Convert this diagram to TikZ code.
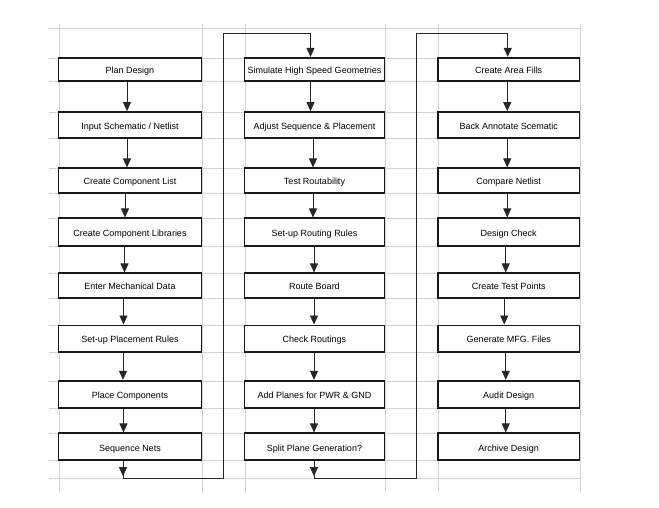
\documentclass[tikz,border=0pt]{standalone}
\usepackage{fontspec}
\setmainfont{Liberation Sans}
\usetikzlibrary{arrows.meta}
\begin{document}
\begin{tikzpicture}[x=1pt,y=-1pt,
  gridline/.style={draw=black!17, line width=0.9pt},
  box/.style={draw=black!90, fill=white, line width=1.7pt, rectangle, inner sep=0pt,
    font=\fontsize{9}{11}\selectfont, text=black, text height=8.5pt, text depth=0pt},
  ca/.style={minimum width=143pt},
  cb/.style={minimum width=140pt},
  cc/.style={minimum width=141.5pt},
  ra/.style={minimum height=23pt},
  rb/.style={minimum height=26pt},
  rc/.style={minimum height=24.4pt},
  rd/.style={minimum height=27.4pt},
  re/.style={minimum height=24.4pt},
  rf/.style={minimum height=26.7pt},
  rg/.style={minimum height=27.3pt},
  rh/.style={minimum height=27pt},
  conn/.style={draw=black!85, line width=0.8pt},
  arr/.style={conn, -{Triangle[length=9pt,width=8pt]}}]
\useasboundingbox (0,0) rectangle (659,508);
\fill[white] (0,0) rectangle (659,508);
% spreadsheet grid
\foreach \y in {28.5,58,81,112,138,168,193,218,246,273,298,325,352,381,408,433,460,478}
  \draw[gridline] (49,\y) -- (580,\y);
\foreach \x in {59,202,245,385,438,580}
  \draw[gridline] (\x,24) -- (\x,493);
% column 1
\node[box,ca,ra] (a1) at (130,69.2) {Plan Design};
\node[box,ca,rb] (a2) at (130,125) {Input Schematic / Netlist};
\node[box,ca,rc] (a3) at (130,180.5) {Create Component List};
\node[box,ca,rd] (a4) at (130,232) {Create Component Libraries};
\node[box,ca,re] (a5) at (130,285.5) {Enter Mechanical Data};
\node[box,ca,rf] (a6) at (130,338.7) {Set-up Placement Rules};
\node[box,ca,rg] (a7) at (130,394.3) {Place Components};
\node[box,ca,rh] (a8) at (130,446.8) {Sequence Nets};
% column 2
\node[box,cb,ra] (b1) at (314.5,69.2) {Simulate High Speed Geometries};
\node[box,cb,rb] (b2) at (314.5,125) {Adjust Sequence \& Placement};
\node[box,cb,rc] (b3) at (314.5,180.5) {Test Routability};
\node[box,cb,rd] (b4) at (314.5,232) {Set-up Routing Rules};
\node[box,cb,re] (b5) at (314.5,285.5) {Route Board};
\node[box,cb,rf] (b6) at (314.5,338.7) {Check Routings};
\node[box,cb,rg] (b7) at (314.5,394.3) {Add Planes for PWR \& GND};
\node[box,cb,rh] (b8) at (314.5,446.8) {Split Plane Generation?};
% column 3
\node[box,cc,ra] (c1) at (508.75,69.2) {Create Area Fills};
\node[box,cc,rb] (c2) at (508.75,125) {Back Annotate Scematic};
\node[box,cc,rc] (c3) at (508.75,180.5) {Compare Netlist};
\node[box,cc,rd] (c4) at (508.75,232) {Design Check};
\node[box,cc,re] (c5) at (508.75,285.5) {Create Test Points};
\node[box,cc,rf] (c6) at (508.75,338.7) {Generate MFG. Files};
\node[box,cc,rg] (c7) at (508.75,394.3) {Audit Design};
\node[box,cc,rh] (c8) at (508.75,446.8) {Archive Design};
% column arrows
\foreach \p/\q/\s in {a1/a2/-3,a2/a3/-3,a3/a4/-5,a4/a5/-5.5,a5/a6/-6.5,a6/a7/-7,a7/a8/-6.5,
  b1/b2/-4,b2/b3/-1.5,b3/b4/-1.5,b4/b5/-0.5,b5/b6/-0.5,b6/b7/-0.5,b7/b8/-0.5,
  c1/c2/-1.5,c2/c3/-1.5,c3/c4/-1.5,c4/c5/-3,c5/c6/-4.5,c6/c7/-3,c7/c8/-3}
  \draw[arr] ([xshift=\s pt]\p.south) -- ([xshift=\s pt]\q.north);
% wrap-around connectors
\coordinate (wa1) at (223,478);
\coordinate (wa2) at (223,33.5);
\coordinate (wb1) at (416,478);
\coordinate (wb2) at (416,33.5);
\draw[arr] ([xshift=-7pt]a8.south) -- ([xshift=-7pt,yshift=-15pt]a8.south);
\draw[conn] ([xshift=-7pt]a8.south) |- (wa1) -- (wa2);
\draw[arr] (wa2) -| ([xshift=-4pt]b1.north);
\draw[arr] ([xshift=-0.5pt]b8.south) -- ([xshift=-0.5pt,yshift=-15pt]b8.south);
\draw[conn] ([xshift=-0.5pt]b8.south) |- (wb1) -- (wb2);
\draw[arr] (wb2) -| ([xshift=-1pt]c1.north);
\end{tikzpicture}
\end{document}
